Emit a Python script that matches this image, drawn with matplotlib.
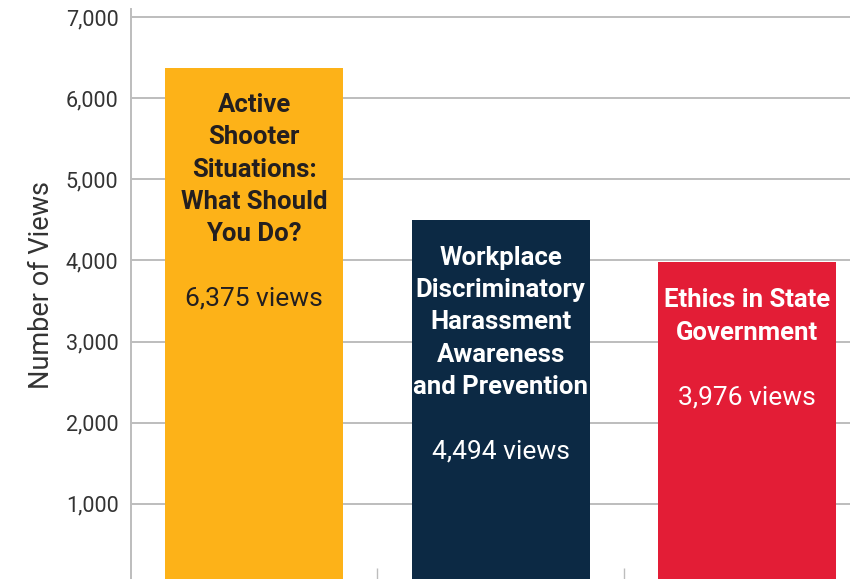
import matplotlib.pyplot as plt
from matplotlib.ticker import FuncFormatter

plt.rcParams['font.family'] = ['Roboto', 'DejaVu Sans']

titles = ["Active\nShooter\nSituations:\nWhat Should\nYou Do?",
          "Workplace\nDiscriminatory\nHarassment\nAwareness\nand Prevention",
          "Ethics in State\nGovernment"]
views = [6375, 4494, 3976]
colors = ["#FDB218", "#0C2944", "#E31D36"]
text_colors = ["#231F20", "white", "white"]

fig = plt.figure(figsize=(8.5, 5.79), dpi=100)
# axes run a little past the right and bottom edges of the figure
ax = fig.add_axes([0.1541, -0.0104, 0.870, 0.995])

x = list(range(len(views)))
ax.bar(x, views, width=0.722, color=colors, zorder=3)

ax.set_xlim(-0.5, 2.5)
ax.set_ylim(0, 7100)
ax.set_yticks([1000, 2000, 3000, 4000, 5000, 6000, 7000])
ax.yaxis.set_major_formatter(FuncFormatter(lambda v, p: f"{int(v):,}"))
ax.grid(axis='y', color='#BDBDBD', linewidth=1.4, zorder=0)
ax.tick_params(axis='y', length=0, pad=9, labelsize=15.5, labelcolor='#333333')

ax.set_xticks([])
ax.set_xticks([0.5, 1.5], minor=True)
ax.tick_params(axis='x', which='minor', direction='in', length=12, width=1,
               color='#BDBDBD', labelbottom=False)

for side in ['top', 'right', 'bottom']:
    ax.spines[side].set_visible(False)
ax.spines['left'].set_color('#BDBDBD')
ax.spines['left'].set_linewidth(1.4)

ax.set_ylabel("Number of Views", fontsize=19.5, color='#333333')
ax.yaxis.set_label_coords(-0.103, 0.52)

line_px = 32
for i, (t, v) in enumerate(zip(titles, views)):
    n = t.count("\n") + 1
    first = 38
    mid = first + (n - 1) * line_px / 2
    ax.annotate(t, xy=(i, v), xytext=(0, -mid * 0.72), textcoords='offset points',
                ha='center', va='center', fontsize=18.5, fontweight='bold',
                color=text_colors[i], linespacing=1.44, zorder=4)
    vy = first + (n - 1) * line_px + 65
    ax.annotate(f"{v:,} views", xy=(i, v), xytext=(0, -vy * 0.72),
                textcoords='offset points', ha='center', va='center',
                fontsize=19, color=text_colors[i], zorder=4)

fig.savefig("out.png", dpi=100)
